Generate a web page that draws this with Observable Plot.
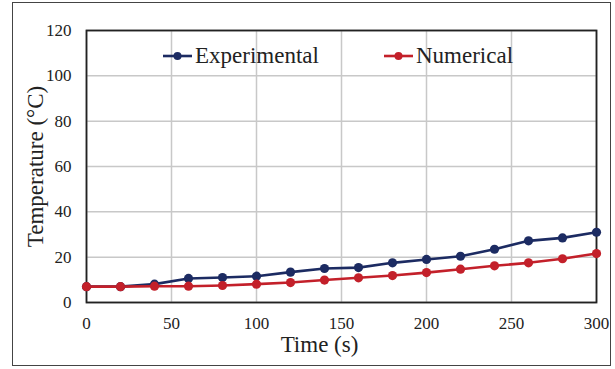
<!DOCTYPE html>
<html>
<head>
<meta charset="utf-8">
<script src="https://cdn.jsdelivr.net/npm/d3@7"></script>
<script src="https://cdn.jsdelivr.net/npm/@observablehq/plot@0.6"></script>
<style>
  html, body { margin: 0; padding: 0; background: #fff; }
  #wrap { position: relative; width: 615px; height: 369px; overflow: hidden; }
  #border { position: absolute; left: 12px; top: 2px; width: 599px; height: 364px; border: 1px solid #444; box-sizing: border-box; pointer-events: none; }
  .legend { position: absolute; display: flex; align-items: center; font-family: "Liberation Serif", "Times New Roman", serif; font-size: 23px; color: #222; white-space: nowrap; }
  .legend svg { margin-right: 3px; }
</style>
</head>
<body>
<div id="wrap">
  <div id="border"></div>
</div>
<script>
// Time samples (s)
const time = [0, 20, 40, 60, 80, 100, 120, 140, 160, 180, 200, 220, 240, 260, 280, 300];
// Measured temperature (°C)
const experimental = [7.0, 7.0, 8.1, 10.6, 11.0, 11.6, 13.4, 15.0, 15.4, 17.5, 19.0, 20.4, 23.5, 27.2, 28.5, 31.0];
// Simulated temperature (°C)
const numerical = [7.0, 7.0, 7.2, 7.2, 7.5, 8.1, 8.8, 9.9, 10.9, 11.9, 13.2, 14.7, 16.2, 17.5, 19.3, 21.6];

const seriesNames = ["Experimental", "Numerical"];
const seriesColors = ["#1c2b62", "#c3202a"];
const xTicks = [0, 50, 100, 150, 200, 250, 300];
const yTicks = [0, 20, 40, 60, 80, 100, 120];
const xLabel = "Time (s)";
const yLabel = "Temperature (°C)";

const rows = [];
[experimental, numerical].forEach((vals, k) => {
  vals.forEach((v, i) => rows.push({series: seriesNames[k], t: time[i], temp: v}));
});

const serif = "Liberation Serif, Times New Roman, serif";

const chart = Plot.plot({
  width: 615,
  height: 369,
  marginLeft: 86,
  marginRight: 19,
  marginTop: 30,
  marginBottom: 67,
  style: {fontFamily: serif, fontSize: "17px", color: "#222", background: "transparent"},
  x: {domain: [0, 300]},
  y: {domain: [0, 120]},
  color: {domain: seriesNames, range: seriesColors},
  marks: [
    Plot.gridX(xTicks, {stroke: "#c8c8c8", strokeOpacity: 1, strokeWidth: 1.5}),
    Plot.gridY(yTicks, {stroke: "#c8c8c8", strokeOpacity: 1, strokeWidth: 1.5}),
    Plot.frame({stroke: "#222", strokeWidth: 1.8}),
    Plot.axisX(xTicks, {tickSize: 0, tickPadding: 14, fontSize: 17, fontFamily: serif, label: null}),
    Plot.axisY(yTicks, {tickSize: 0, tickPadding: 15, fontSize: 17, fontFamily: serif, label: null}),
    Plot.text([xLabel], {frameAnchor: "bottom", lineAnchor: "middle", dx: -22, dy: 42, fontSize: 23, fontFamily: serif}),
    Plot.text([yLabel], {frameAnchor: "left", textAnchor: "middle", lineAnchor: "middle", rotate: -90, dx: -51, fontSize: 23, fontFamily: serif}),
    Plot.line(rows, {x: "t", y: "temp", z: "series", stroke: "series", strokeWidth: 2.6}),
    Plot.dot(rows, {x: "t", y: "temp", fill: "series", r: 4.6})
  ]
});

const wrap = document.getElementById("wrap");
chart.style.position = "absolute";
chart.style.left = "0px";
chart.style.top = "0px";
wrap.insertBefore(chart, wrap.firstChild);

// Legend entries inside the plot area
const legendPos = [{left: 163, top: 43}, {left: 384, top: 43}];
seriesNames.forEach((name, k) => {
  const item = document.createElement("div");
  item.className = "legend";
  item.style.left = legendPos[k].left + "px";
  item.style.top = legendPos[k].top + "px";
  item.innerHTML =
    `<svg width="29" height="12"><line x1="0" y1="6" x2="29" y2="6" stroke="${seriesColors[k]}" stroke-width="2.6"/>` +
    `<circle cx="14.5" cy="6" r="4" fill="${seriesColors[k]}"/></svg><span>${name}</span>`;
  wrap.appendChild(item);
});
</script>
</body>
</html>
